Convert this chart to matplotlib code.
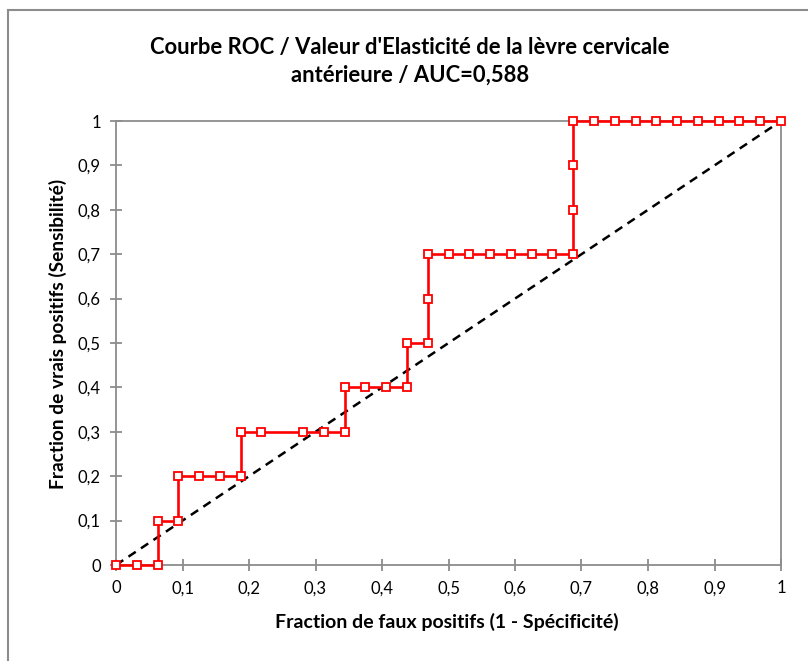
import matplotlib
matplotlib.use("Agg")
import matplotlib.pyplot as plt
from matplotlib.patches import Rectangle

# Data: false positive fraction (1 - specificity) and true positive fraction (sensitivity)
fpr = [0, 0.03125, 0.0625, 0.0625, 0.09375, 0.09375, 0.125, 0.15625, 0.1875,
       0.1875, 0.21875, 0.28125, 0.3125, 0.34375, 0.34375, 0.375, 0.40625, 0.4375,
       0.4375, 0.46875, 0.46875, 0.46875, 0.5, 0.53125, 0.5625, 0.59375, 0.625,
       0.65625, 0.6875, 0.6875, 0.6875, 0.6875, 0.71875, 0.75, 0.78125, 0.8125,
       0.84375, 0.875, 0.90625, 0.9375, 0.96875, 1.0]
tpr = [0, 0, 0, 0.1, 0.1, 0.2, 0.2, 0.2, 0.2,
       0.3, 0.3, 0.3, 0.3, 0.3, 0.4, 0.4, 0.4, 0.4,
       0.5, 0.5, 0.6, 0.7, 0.7, 0.7, 0.7, 0.7, 0.7,
       0.7, 0.7, 0.8, 0.9, 1.0, 1.0, 1.0, 1.0, 1.0,
       1.0, 1.0, 1.0, 1.0, 1.0, 1.0]
diag = [0, 1]
ticks = [0, 0.1, 0.2, 0.3, 0.4, 0.5, 0.6, 0.7, 0.8, 0.9, 1]
tick_labels = ["0", "0,1", "0,2", "0,3", "0,4", "0,5", "0,6", "0,7", "0,8", "0,9", "1"]

title = "Courbe ROC / Valeur d'Elasticité de la lèvre cervicale\nantérieure / AUC=0,588"
xlabel = "Fraction de faux positifs (1 - Spécificité)"
ylabel = "Fraction de vrais positifs (Sensibilité)"

plt.rcParams['font.family'] = ['Lato', 'DejaVu Sans']

W, H = 808, 661
fig = plt.figure(figsize=(W / 100, H / 100), dpi=100)
# axes: x 116..781, y 121..565 (pixels)
ax = fig.add_axes([116 / W, 1 - 565 / H, (781 - 116) / W, (565 - 121) / H])

# outer chart frame
fig.patches.append(Rectangle((8 / W, -0.05), 1.2, 1 - 10 / H + 0.05,
                             transform=fig.transFigure, fill=False,
                             edgecolor='#8c8c8c', linewidth=1.5))

ax.plot(diag, diag, color='black', linestyle=(0, (3.5, 2.5)), linewidth=1.8, zorder=2)
ax.plot(fpr, tpr, color='#ff0000', linewidth=1.9, marker='s', markersize=6.2,
        markerfacecolor='white', markeredgecolor='#ff0000', markeredgewidth=1.3,
        zorder=3, clip_on=False)

ax.set_xlim(0, 1)
ax.set_ylim(0, 1)
ax.set_xticks(ticks)
ax.set_xticklabels(tick_labels)
ax.set_yticks(ticks)
ax.set_yticklabels(tick_labels)
for s in ax.spines.values():
    s.set_color('#8c8c8c')
    s.set_linewidth(1.3)
ax.tick_params(axis='both', direction='inout', length=8, width=1.3, color='#8c8c8c',
               labelsize=12, labelcolor='black')
ax.tick_params(axis='x', pad=7)
ax.tick_params(axis='y', pad=7)

fig.text(447 / W, 1 - 622 / H, xlabel, ha='center', va='center', fontsize=14,
         fontweight='bold')
fig.text(58 / W, 1 - 334 / H, ylabel, ha='center', va='center', fontsize=13.8,
         fontweight='bold', rotation=90)
fig.text(410 / W, 1 - 61 / H, title, ha='center', va='center', fontsize=15.8,
         fontweight='bold', linespacing=1.4)

fig.savefig("out.png", dpi=100)
